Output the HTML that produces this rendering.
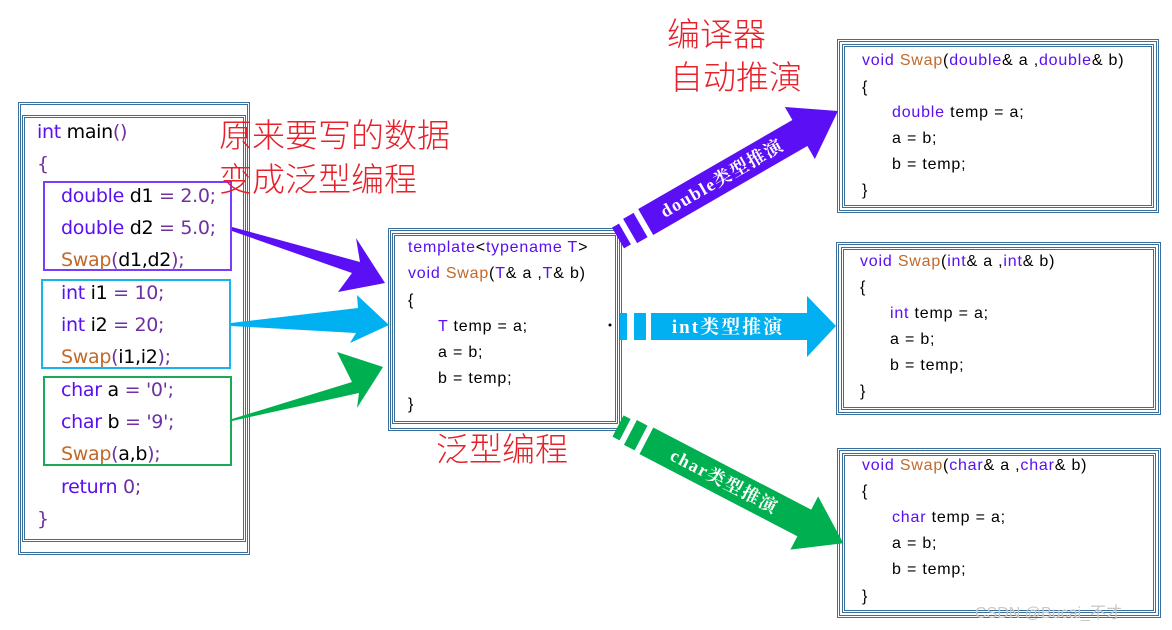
<!DOCTYPE html>
<html><head><meta charset="utf-8"><style>
body{margin:0;width:1172px;height:630px;background:#fff;position:relative;overflow:hidden;font-family:"Liberation Sans","DejaVu Sans",sans-serif}
.b{position:absolute;border:3px double #3a6f9c;box-sizing:border-box}
.t{position:absolute;white-space:pre;line-height:22px;color:#000}
.L{font-size:19px;font-family:"DejaVu Sans","Liberation Sans",sans-serif;letter-spacing:-0.3px}
.M{font-size:16px;letter-spacing:0.8px}
.k{color:#5a0ff0}.s{color:#c0692a}.n{color:#7030a0}
.r{position:absolute;color:#e8202a;font-family:"Noto Sans CJK SC","WenQuanYi Zen Hei",sans-serif;font-weight:300;line-height:1;white-space:nowrap}
</style></head><body>
<div class="b" style="left:18px;top:102px;width:232px;height:453px"></div>
<div class="b" style="left:22px;top:115px;width:224px;height:427px"></div>
<div class="b" style="left:388px;top:228px;width:234px;height:203px"></div>
<div class="b" style="left:392px;top:233px;width:226px;height:191px"></div>
<div class="b" style="left:837px;top:39px;width:322px;height:174px"></div>
<div class="b" style="left:842px;top:44px;width:312px;height:164px"></div>
<div class="b" style="left:836px;top:242px;width:325px;height:173px"></div>
<div class="b" style="left:841px;top:247px;width:315px;height:163px"></div>
<div class="b" style="left:837px;top:448px;width:324px;height:170px"></div>
<div class="b" style="left:842px;top:453px;width:314px;height:160px"></div>

<div style="position:absolute;left:43px;top:181px;width:189px;height:90px;border:2px solid #7a3cff;box-sizing:border-box"></div>
<div style="position:absolute;left:41px;top:279px;width:190px;height:90px;border:2px solid #1ab4ea;box-sizing:border-box"></div>
<div style="position:absolute;left:43px;top:376px;width:189px;height:90px;border:2px solid #1aaa55;box-sizing:border-box"></div>

<svg style="position:absolute;left:0;top:0" width="1172" height="630">
<polygon fill="#5a0ff5" points="232,227 360,262 356,238 385,283 338,292 352,273 232,231"/>
<polygon fill="#00b0f0" points="231,323 358,308 357,295 389,325 350,343 356,333 231,326"/>
<polygon fill="#00b050" points="232,419 352,382 337,352 383,367 357,408 359,393 232,421"/>
<g transform="translate(618,238) rotate(-30)">
<rect x="0" y="-12" width="8" height="24" fill="#5a0ff5"/><rect x="14" y="-14" width="12" height="28" fill="#5a0ff5"/>
<rect x="32" y="-15" width="182" height="30" fill="#5a0ff5"/><polygon fill="#5a0ff5" points="210,-30 254,0 210,30"/>
<text x="120" y="6" fill="#fff" font-family="Liberation Serif,Noto Serif CJK SC,serif" font-weight="bold" font-size="18" letter-spacing="1.5" text-anchor="middle">double类型推演</text></g>
<rect x="620" y="313" width="7" height="27" fill="#00b0f0"/><rect x="634" y="313" width="12" height="27" fill="#00b0f0"/>
<rect x="651" y="313" width="158" height="27" fill="#00b0f0"/><polygon fill="#00b0f0" points="807,296 836,326 807,357"/>
<text x="728" y="333" fill="#fff" font-family="Liberation Serif,Noto Serif CJK SC,serif" font-weight="bold" font-size="19" letter-spacing="2" text-anchor="middle">int类型推演</text>
<circle cx="610" cy="325" r="1.5" fill="#000"/>
<g transform="translate(618,426) rotate(27.5)">
<rect x="0" y="-12" width="8" height="24" fill="#00b050"/><rect x="14" y="-14" width="12" height="28" fill="#00b050"/>
<rect x="32" y="-15" width="182" height="30" fill="#00b050"/><polygon fill="#00b050" points="210,-30 254,0 210,30"/>
<text x="120" y="6" fill="#fff" font-family="Liberation Serif,Noto Serif CJK SC,serif" font-weight="bold" font-size="18" letter-spacing="1.5" text-anchor="middle">char类型推演</text></g>
</svg>

<div class="t L" style="left:37px;top:121px"><span class="k">int</span> main<span class="n">()</span></div>
<div class="t L n" style="left:37px;top:153px">{</div>
<div class="t L" style="left:61px;top:185px"><span class="k">double</span> d1 <span class="n">= 2.0;</span></div>
<div class="t L" style="left:61px;top:217px"><span class="k">double</span> d2 <span class="n">= 5.0;</span></div>
<div class="t L" style="left:61px;top:249px"><span class="s">Swap</span><span class="n">(</span>d1,d2<span class="n">);</span></div>
<div class="t L" style="left:61px;top:282px"><span class="k">int</span> i1 <span class="n">= 10;</span></div>
<div class="t L" style="left:61px;top:314px"><span class="k">int</span> i2 <span class="n">= 20;</span></div>
<div class="t L" style="left:61px;top:346px"><span class="s">Swap</span><span class="n">(</span>i1,i2<span class="n">);</span></div>
<div class="t L" style="left:61px;top:379px"><span class="k">char</span> a <span class="n">= '0';</span></div>
<div class="t L" style="left:61px;top:411px"><span class="k">char</span> b <span class="n">= '9';</span></div>
<div class="t L" style="left:61px;top:443px"><span class="s">Swap</span><span class="n">(</span>a,b<span class="n">);</span></div>
<div class="t L" style="left:61px;top:476px"><span class="k">return</span> <span class="n">0;</span></div>
<div class="t L n" style="left:37px;top:508px">}</div>

<div class="t M" style="left:408px;top:237px"><span class="k">template</span>&lt;<span class="k">typename T</span>&gt;</div>
<div class="t M" style="left:408px;top:263px"><span class="k">void</span> <span class="s">Swap</span>(<span class="k">T</span>&amp; a ,<span class="k">T</span>&amp; b)</div>
<div class="t M" style="left:408px;top:290px">{</div>
<div class="t M" style="left:438px;top:316px"><span class="k">T</span> temp = a;</div>
<div class="t M" style="left:438px;top:342px">a = b;</div>
<div class="t M" style="left:438px;top:368px">b = temp;</div>
<div class="t M" style="left:408px;top:394px">}</div>

<div class="t M" style="left:862px;top:50px"><span class="k">void</span> <span class="s">Swap</span>(<span class="k">double</span>&amp; a ,<span class="k">double</span>&amp; b)</div>
<div class="t M" style="left:862px;top:77px">{</div>
<div class="t M" style="left:892px;top:102px"><span class="k">double</span> temp = a;</div>
<div class="t M" style="left:892px;top:128px">a = b;</div>
<div class="t M" style="left:892px;top:154px">b = temp;</div>
<div class="t M" style="left:862px;top:180px">}</div>

<div class="t M" style="left:860px;top:251px"><span class="k">void</span> <span class="s">Swap</span>(<span class="k">int</span>&amp; a ,<span class="k">int</span>&amp; b)</div>
<div class="t M" style="left:860px;top:277px">{</div>
<div class="t M" style="left:890px;top:303px"><span class="k">int</span> temp = a;</div>
<div class="t M" style="left:890px;top:329px">a = b;</div>
<div class="t M" style="left:890px;top:355px">b = temp;</div>
<div class="t M" style="left:860px;top:381px">}</div>

<div class="t M" style="left:862px;top:455px"><span class="k">void</span> <span class="s">Swap</span>(<span class="k">char</span>&amp; a ,<span class="k">char</span>&amp; b)</div>
<div class="t M" style="left:862px;top:481px">{</div>
<div class="t M" style="left:892px;top:507px"><span class="k">char</span> temp = a;</div>
<div class="t M" style="left:892px;top:533px">a = b;</div>
<div class="t M" style="left:892px;top:559px">b = temp;</div>
<div class="t M" style="left:862px;top:586px">}</div>

<div class="r" style="left:219px;top:117px;font-size:33px">原来要写的数据</div>
<div class="r" style="left:219px;top:161px;font-size:33px">变成泛型编程</div>
<div class="r" style="left:667px;top:16px;font-size:33px">编译器</div>
<div class="r" style="left:670px;top:59px;font-size:33px">自动推演</div>
<div class="r" style="left:436px;top:431px;font-size:33px">泛型编程</div>
<div style="position:absolute;left:975px;top:599px;font-size:16px;color:#c8c8c8;font-family:'Liberation Sans','Noto Sans CJK SC',sans-serif;white-space:nowrap">CSDN @Bucai_不才</div>
</body></html>
